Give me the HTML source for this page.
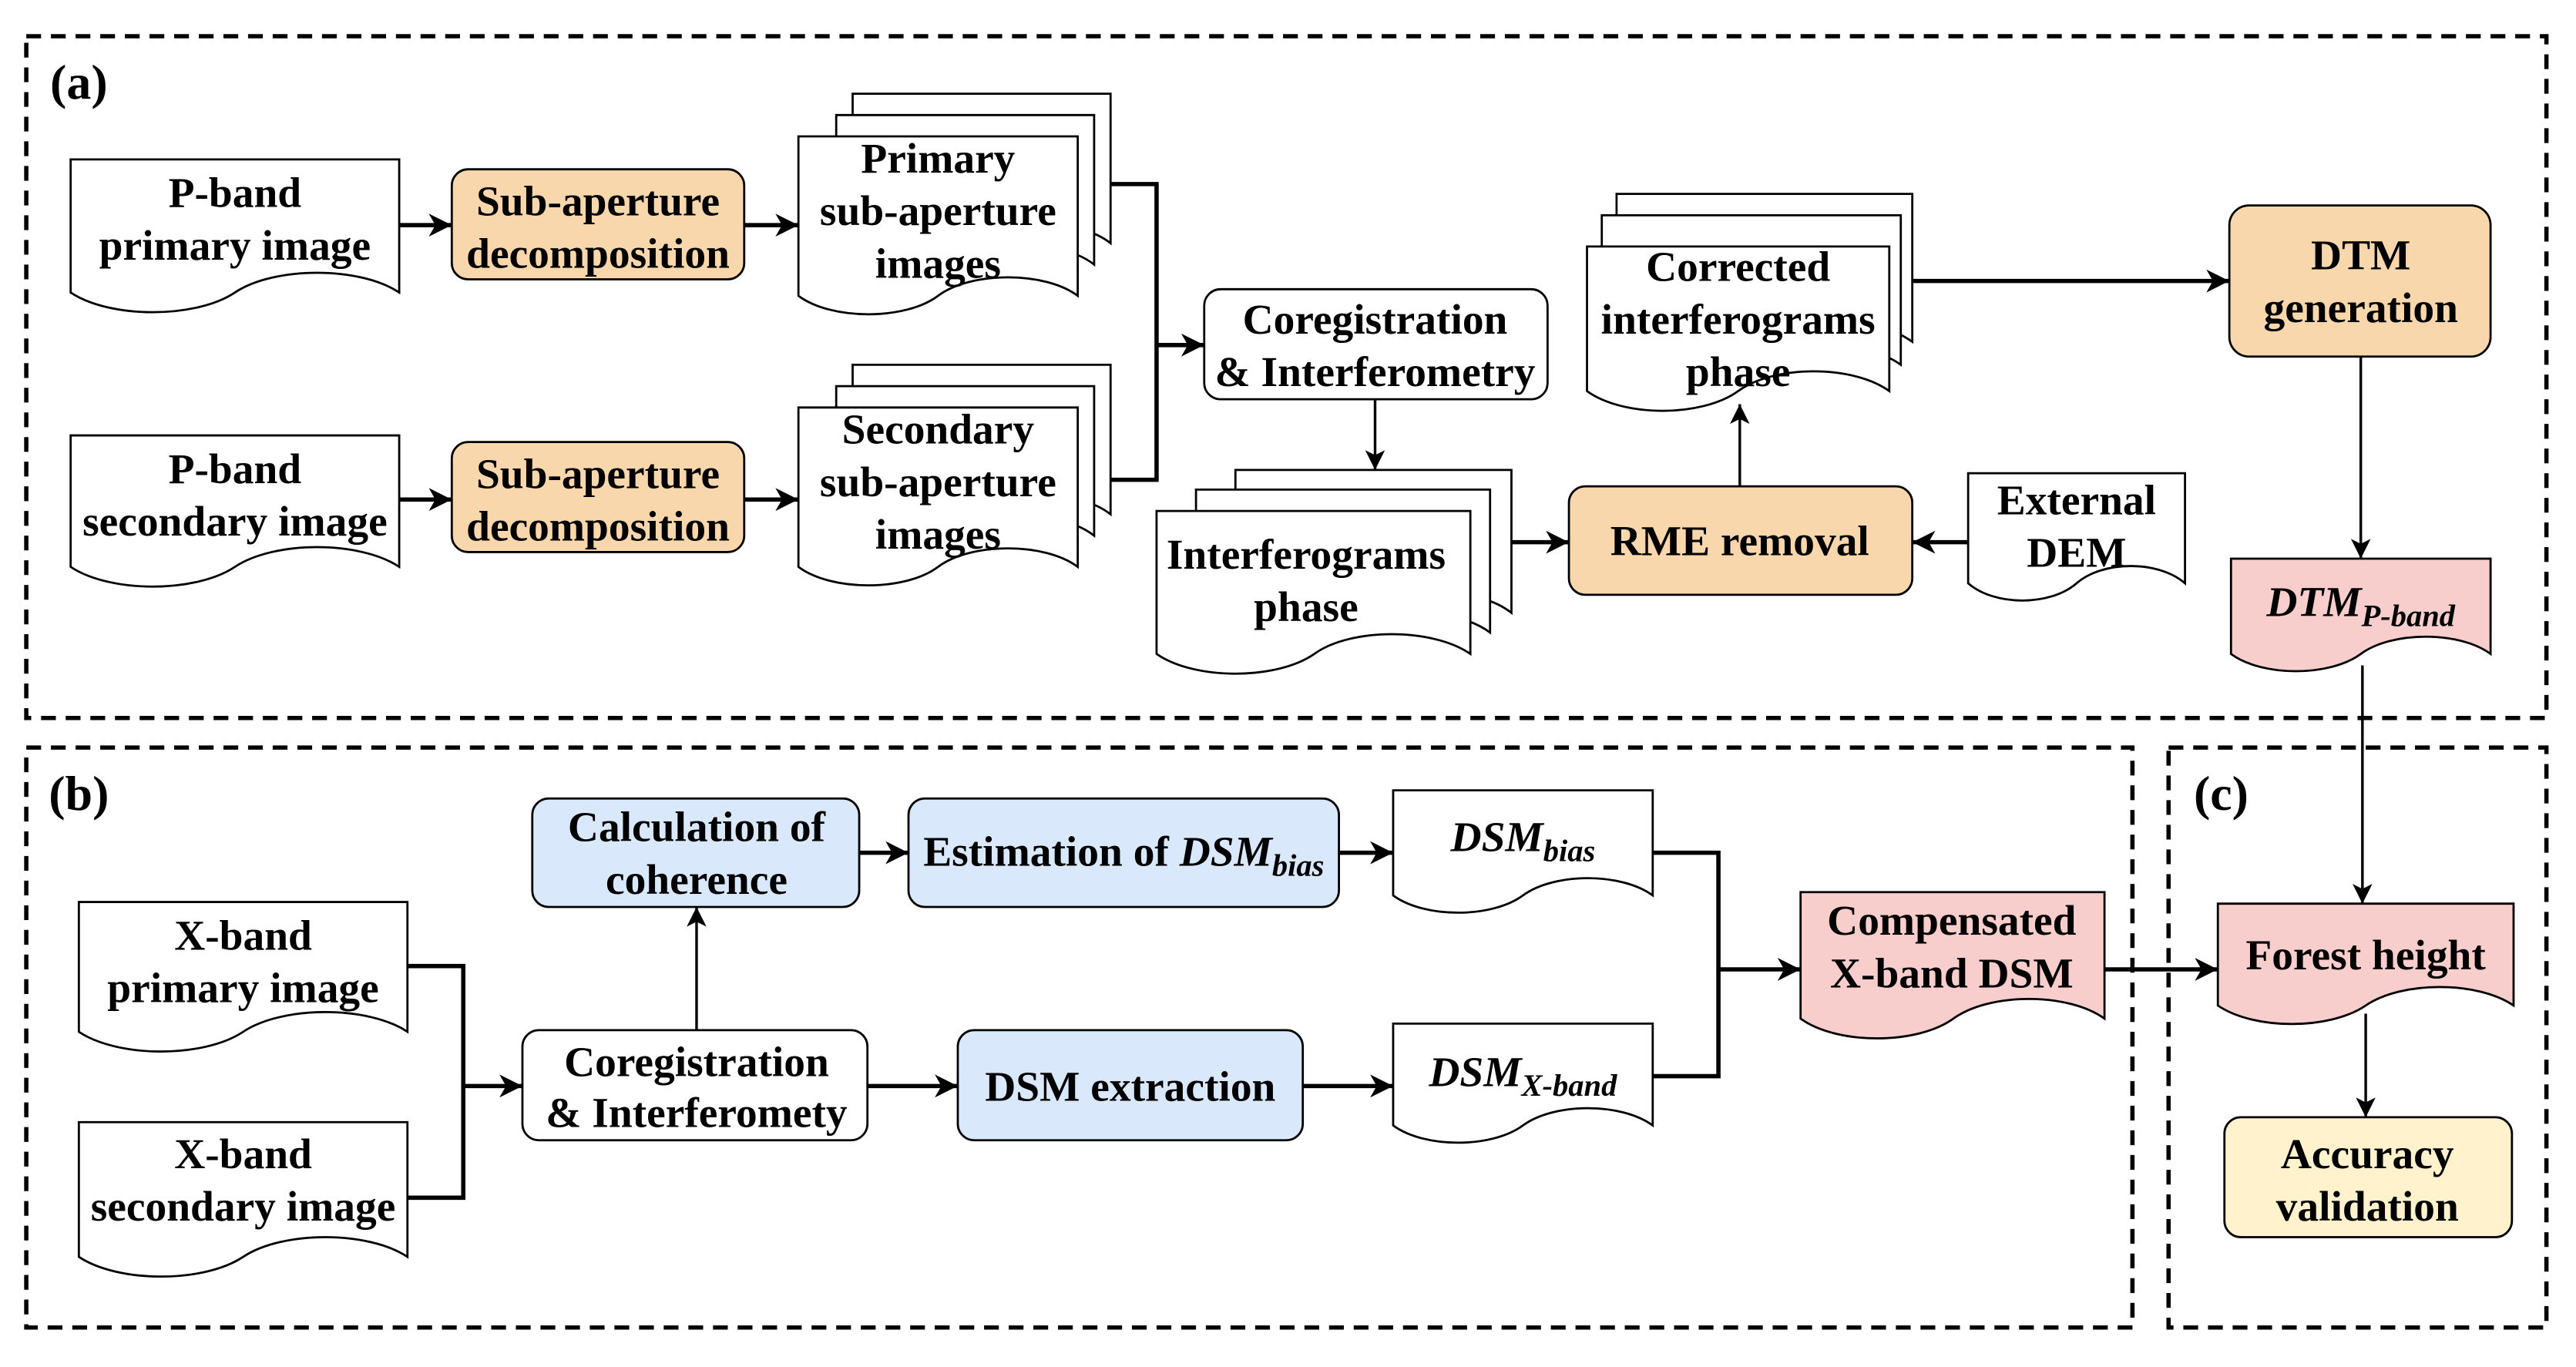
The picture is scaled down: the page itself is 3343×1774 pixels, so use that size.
<!DOCTYPE html>
<html><head><meta charset="utf-8"><style>
html,body{margin:0;padding:0;background:#fff;}
svg{display:block;}
text{font-family:"Liberation Serif",serif;font-weight:bold;font-size:26px;fill:#000;text-anchor:middle;}
.i{font-style:italic;}
.box{stroke:#000;stroke-width:1.3;}
.doc{stroke:#000;stroke-width:1.3;}
.ln{stroke:#000;fill:none;stroke-width:2.6;}
.tn{stroke:#000;fill:none;stroke-width:1.6;}
.dash{fill:none;stroke:#000;stroke-width:2.6;stroke-dasharray:9 6;}
</style></head><body>
<svg width="3343" height="1774" viewBox="0 0 1568 832" xmlns="http://www.w3.org/2000/svg">
<defs>
<marker id="a" markerUnits="userSpaceOnUse" markerWidth="16" markerHeight="14" refX="14" refY="7" orient="auto"><path d="M0,0 L14,7 L0,14 L4,7 Z" fill="#000"/></marker>
<marker id="b" markerUnits="userSpaceOnUse" markerWidth="14" markerHeight="12" refX="12" refY="6" orient="auto"><path d="M0,0 L12,6 L0,12 L3,6 Z" fill="#000"/></marker>
</defs>
<rect x="0" y="0" width="1568" height="832" fill="#fff"/>
<!-- dashed regions -->
<rect class="dash" x="16" y="22" width="1534" height="415"/>
<rect class="dash" x="16" y="455" width="1282" height="353"/>
<rect class="dash" x="1320" y="455" width="230" height="353"/>
<text x="48" y="60" style="font-size:30px">(a)</text>
<text x="48" y="493" style="font-size:30px">(b)</text>
<text x="1352" y="493" style="font-size:30px">(c)</text>

<!-- docs: M x0 y0 H x1 V yL C x1-.12w yL-k, x1-.38w yL-k, x1-.5w yL C ... x0 yL Z -->
<g class="doc" fill="#fff">
<!-- P-band primary 43..243 -->
<path d="M43,97 H243 V178 C219,162 167,162 143,178 C119,194 67,194 43,178 Z"/>
<path d="M43,265 H243 V345 C219,329 167,329 143,345 C119,361 67,361 43,345 Z"/>
<!-- primary stack -->
<path d="M519,57 H676 V148 C657,133 616,133 597,148 C578,163 538,163 519,148 Z"/>
<path d="M509,70 H666 V161 C647,146 606,146 587,161 C568,176 528,176 509,161 Z"/>
<path d="M486,83 H656 V180 C636,165 591,165 571,180 C551,195 506,195 486,180 Z"/>
<!-- secondary stack -->
<path d="M519,222 H676 V313 C657,298 616,298 597,313 C578,328 538,328 519,313 Z"/>
<path d="M509,235 H666 V326 C647,311 606,311 587,326 C568,341 528,341 509,326 Z"/>
<path d="M486,248 H656 V345 C636,330 591,330 571,345 C551,360 506,360 486,345 Z"/>
<!-- interferograms stack -->
<path d="M752,286 H920 V373 C900,357 856,357 836,373 C816,389 772,389 752,373 Z"/>
<path d="M728,298 H907 V385 C886,369 839,369 818,385 C797,401 749,401 728,385 Z"/>
<path d="M704,311 H895 V398 C872,382 822,382 800,398 C777,414 727,414 704,398 Z"/>
<!-- corrected stack -->
<path d="M984,118 H1164 V208 C1142,192 1096,192 1074,208 C1052,224 1006,224 984,208 Z"/>
<path d="M975,131 H1157 V222 C1135,206 1088,206 1066,222 C1044,238 997,238 975,222 Z"/>
<path d="M966,150 H1150 V238 C1128,222 1080,222 1058,238 C1036,254 988,254 966,238 Z"/>
<!-- external DEM -->
<path d="M1198,288 H1330 V355 C1314,341 1280,341 1264,355 C1248,369 1214,369 1198,355 Z"/>
<!-- X-band docs -->
<path d="M48,549 H248 V628 C224,612 172,612 148,628 C124,644 72,644 48,628 Z"/>
<path d="M48,683 H248 V765 C224,749 172,749 148,765 C124,781 72,781 48,765 Z"/>
<!-- DSM bias / X -->
<path d="M848,481 H1006 V545 C987,531 946,531 927,545 C908,559 867,559 848,545 Z"/>
<path d="M848,623 H1006 V685 C987,671 946,671 927,685 C908,699 867,699 848,685 Z"/>
</g>
<g class="doc" fill="#F8CECC">
<path d="M1358,340 H1516 V398 C1497,384 1456,384 1437,398 C1418,412 1377,412 1358,398 Z"/>
<path d="M1096,543 H1281 V620 C1259,604 1211,604 1189,620 C1167,636 1118,636 1096,620 Z"/>
<path d="M1350,550 H1530 V612 C1508,597 1462,597 1440,612 C1418,627 1372,627 1350,612 Z"/>
</g>

<!-- boxes -->
<g class="box">
<rect x="275" y="103" width="178" height="67" rx="10" fill="#F9D7AC"/>
<rect x="275" y="269" width="178" height="67" rx="10" fill="#F9D7AC"/>
<rect x="733" y="176" width="209" height="67" rx="10" fill="#fff"/>
<rect x="955" y="296" width="209" height="66" rx="10" fill="#F9D7AC"/>
<rect x="1357" y="125" width="159" height="92" rx="12" fill="#F9D7AC"/>
<rect x="324" y="486" width="199" height="66" rx="10" fill="#DAE8FC"/>
<rect x="553" y="486" width="262" height="66" rx="10" fill="#DAE8FC"/>
<rect x="318" y="627" width="210" height="67" rx="10" fill="#fff"/>
<rect x="583" y="627" width="210" height="67" rx="10" fill="#DAE8FC"/>
<rect x="1354" y="680" width="175" height="73" rx="10" fill="#FFF2CC"/>
</g>

<!-- connectors -->
<g class="ln">
<line x1="243" y1="137" x2="275" y2="137" marker-end="url(#a)"/>
<line x1="453" y1="137" x2="486" y2="137" marker-end="url(#a)"/>
<line x1="243" y1="304" x2="275" y2="304" marker-end="url(#a)"/>
<line x1="453" y1="304" x2="486" y2="304" marker-end="url(#a)"/>
<polyline points="676,112 704,112 704,292 676,292"/>
<line x1="704" y1="210" x2="733" y2="210" marker-end="url(#a)"/>
<line x1="920" y1="330" x2="955" y2="330" marker-end="url(#a)"/>
<line x1="1198" y1="330" x2="1164" y2="330" marker-end="url(#a)"/>
<line x1="1164" y1="171" x2="1357" y2="171" marker-end="url(#a)"/>
<polyline points="248,588 282,588 282,729 248,729"/>
<line x1="282" y1="661" x2="318" y2="661" marker-end="url(#a)"/>
<line x1="523" y1="519" x2="553" y2="519" marker-end="url(#a)"/>
<line x1="815" y1="519" x2="848" y2="519" marker-end="url(#a)"/>
<line x1="528" y1="661" x2="583" y2="661" marker-end="url(#a)"/>
<line x1="793" y1="661" x2="848" y2="661" marker-end="url(#a)"/>
<polyline points="1006,519 1046,519 1046,655 1006,655"/>
<line x1="1046" y1="590" x2="1096" y2="590" marker-end="url(#a)"/>
<line x1="1281" y1="590" x2="1350" y2="590" marker-end="url(#a)"/>
</g>
<g class="tn">
<line x1="837" y1="243" x2="837" y2="286" marker-end="url(#b)"/>
<line x1="1059" y1="296" x2="1059" y2="246" marker-end="url(#b)"/>
<line x1="1437" y1="217" x2="1437" y2="340" marker-end="url(#b)"/>
<line x1="1438" y1="405" x2="1438" y2="550" marker-end="url(#b)"/>
<line x1="424" y1="627" x2="424" y2="552" marker-end="url(#b)"/>
<line x1="1440" y1="617" x2="1440" y2="680" marker-end="url(#b)"/>
</g>

<!-- text -->
<text x="143" y="126">P-band</text>
<text x="143" y="158">primary image</text>
<text x="364" y="131">Sub-aperture</text>
<text x="364" y="163">decomposition</text>
<text x="571" y="105">Primary</text>
<text x="571" y="137">sub-aperture</text>
<text x="571" y="169">images</text>
<text x="143" y="294">P-band</text>
<text x="143" y="326">secondary image</text>
<text x="364" y="297">Sub-aperture</text>
<text x="364" y="329">decomposition</text>
<text x="571" y="270">Secondary</text>
<text x="571" y="302">sub-aperture</text>
<text x="571" y="334">images</text>
<text x="837" y="203">Coregistration</text>
<text x="837" y="235">&amp; Interferometry</text>
<text x="795" y="346">Interferograms</text>
<text x="795" y="378">phase</text>
<text x="1059" y="338">RME removal</text>
<text x="1264" y="313">External</text>
<text x="1264" y="345">DEM</text>
<text x="1058" y="171">Corrected</text>
<text x="1058" y="203">interferograms</text>
<text x="1058" y="235">phase</text>
<text x="1437" y="164">DTM</text>
<text x="1437" y="196">generation</text>
<text x="1437" y="375" class="i">DTM<tspan style="font-size:19px" dy="6">P-band</tspan></text>

<text x="148" y="578">X-band</text>
<text x="148" y="610">primary image</text>
<text x="148" y="711">X-band</text>
<text x="148" y="743">secondary image</text>
<text x="424" y="512">Calculation of</text>
<text x="424" y="544">coherence</text>
<text x="684" y="527">Estimation of <tspan class="i">DSM</tspan><tspan class="i" style="font-size:19px" dy="6">bias</tspan></text>
<text x="424" y="655">Coregistration</text>
<text x="424" y="686">&amp; Interferomety</text>
<text x="688" y="670">DSM extraction</text>
<text x="927" y="518" class="i">DSM<tspan style="font-size:19px" dy="6">bias</tspan></text>
<text x="927" y="661" class="i">DSM<tspan style="font-size:19px" dy="6">X-band</tspan></text>
<text x="1188" y="569">Compensated</text>
<text x="1188" y="601">X-band DSM</text>
<text x="1440" y="590">Forest height</text>
<text x="1441" y="711">Accuracy</text>
<text x="1441" y="743">validation</text>
</svg>
</body></html>
